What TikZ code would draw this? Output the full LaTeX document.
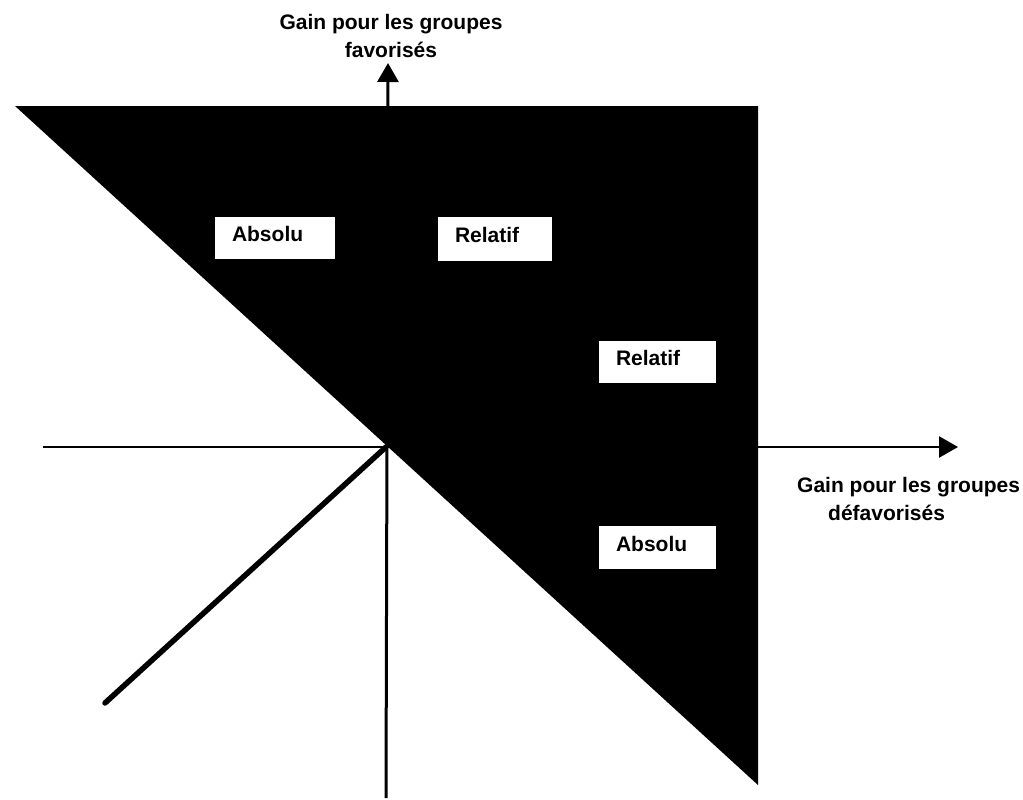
\documentclass[tikz,border=0pt]{standalone}
\usepackage{fontspec}
\setmainfont{Liberation Sans}
\usetikzlibrary{arrows.meta}
\begin{document}
\begin{tikzpicture}[x=1pt,y=-1pt,
  txt/.style={font=\bfseries\fontsize{21}{28}\selectfont},
  lbl/.style={txt, inner sep=0pt},
  box/.style={txt, fill=white, draw=none, align=left, inner xsep=17pt,
    inner ysep=0pt, text height=15pt, text depth=8pt},
  axis/.style={draw=black, line width=2.5pt,
    -{Triangle[length=19pt,width=21pt]}},
  ray/.style={draw=black, line width=5.5pt, line cap=round}]
\useasboundingbox (0,0) rectangle (1023,800);

% shaded region
\coordinate (TL) at (15,106);
\coordinate (TR) at (758,106);
\coordinate (BR) at (758,785);
\fill[black] (TL) -- (TR) -- (BR) -- cycle;

% axes
\coordinate (O) at (386,447);
\coordinate (xl) at (43,447);
\coordinate (xr) at (958,447);
\coordinate (yb) at (386,798);
\coordinate (yt) at (388,63);
\coordinate (ray) at (105,703);
\draw[axis] (xl) -- (xr);
\draw[axis, line width=3pt] (yb) -- (yt);
\draw[ray] (O) -- (ray);

% axis labels
\node[lbl, align=center, anchor=north] (ly) at (391,14)
  {Gain pour les groupes\\favorisés};
\node[lbl, align=left, anchor=north west] (lx) at (797,477)
  {Gain pour les groupes\\\hspace*{31pt}défavorisés};

% region labels
\node[box, text width=86pt, minimum height=42pt] (a1) at (275,238) {Absolu};
\node[box, text width=80pt, minimum height=44pt] (r1) at (495,239) {Relatif};
\node[box, text width=83pt, minimum height=42pt] (r2) at (657.5,362) {Relatif};
\node[box, text width=83pt, minimum height=43pt] (a2) at (657.5,547.5) {Absolu};
\end{tikzpicture}
\end{document}
